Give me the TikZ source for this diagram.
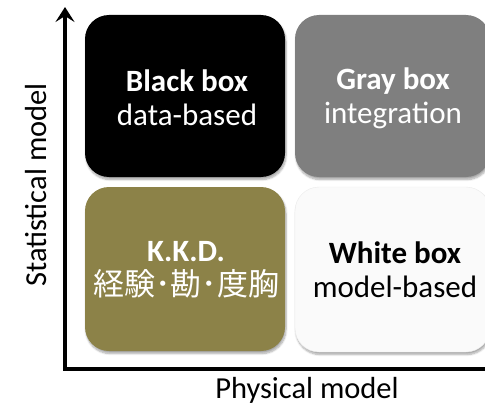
\documentclass[tikz,border=0pt]{standalone}
\usepackage{fontspec}
\setmainfont{Carlito}
\newfontfamily\jpfont{Noto Sans CJK JP}
\usetikzlibrary{arrows.meta,shadows.blur}

\definecolor{olivebox}{RGB}{140,130,72}
\definecolor{graybox}{RGB}{127,127,127}
\definecolor{whitebox}{RGB}{250,250,250}

\tikzset{
  quad/.style={rounded corners=24pt, inner sep=0pt,
    blur shadow={shadow xshift=1pt, shadow yshift=-2.5pt, shadow opacity=35, shadow blur steps=8}},
  quadtext/.style={align=center, font=\fontsize{31}{34}\selectfont},
  axis/.style={line width=3.2pt, black},
  axislabel/.style={font=\fontsize{30.5}{34}\selectfont}
}

\begin{document}
\begin{tikzpicture}[x=1pt,y=1pt]
  \useasboundingbox (0,0) rectangle (485,408);

  % quadrant boxes
  \path[quad, fill=black]     (85,231) rectangle (285,393);
  \path[quad, fill=graybox]   (295,231) rectangle (490,393);
  \path[quad, fill=olivebox]  (85,57)  rectangle (285,221);
  \path[quad, fill=whitebox, draw=black!8] (295,56) rectangle (490,221);

  % quadrant labels
  \node[quadtext, text=white] (black) at (187,310) {\textbf{Black box}\\data-based};
  \node[quadtext, text=white] (gray)  at (393,310) {\textbf{Gray box}\\integration};
  \node[quadtext, text=white] (kkd)   at (186,138) {\textbf{K.K.D.}\\{\jpfont\fontsize{31}{34}\selectfont 経験･勘･度胸}};
  \node[quadtext, text=black] (white) at (395,138) {\textbf{White box}\\model-based};

  % axes
  \coordinate (origin) at (65,39);
  \coordinate (ytop) at (65,401);
  \coordinate (xend) at (485,39);
  \draw[axis, -{Stealth[length=15pt,width=19pt,inset=6pt]}] (origin) -- (ytop);
  \draw[axis, line cap=rect] (origin) -- (xend);

  % axis titles
  \node[axislabel, rotate=90] (ylab) at (36,223) {Statistical model};
  \node[axislabel] (xlab) at (307,18) {Physical model};
\end{tikzpicture}
\end{document}
